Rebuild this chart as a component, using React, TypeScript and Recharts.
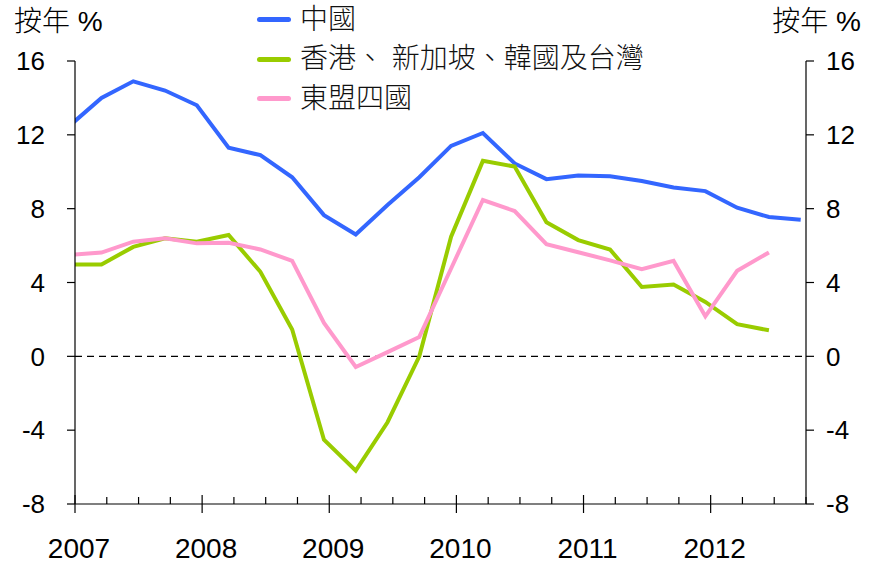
import { Line, LineChart, ReferenceLine, XAxis, YAxis } from "recharts";

// quarterly y/y growth, 2006Q4 - 2012Q3
const quarters = [
  "2006Q4", "2007Q1", "2007Q2", "2007Q3", "2007Q4", "2008Q1", "2008Q2", "2008Q3",
  "2008Q4", "2009Q1", "2009Q2", "2009Q3", "2009Q4", "2010Q1", "2010Q2", "2010Q3",
  "2010Q4", "2011Q1", "2011Q2", "2011Q3", "2011Q4", "2012Q1", "2012Q2", "2012Q3",
];
const china = [
  12.5, 14.0, 14.9, 14.4, 13.6, 11.3, 10.9, 9.7, 7.65, 6.6, 8.2, 9.7,
  11.4, 12.1, 10.45, 9.6, 9.8, 9.75, 9.5, 9.15, 8.95, 8.05, 7.55, 7.4,
];
const nies = [
  4.98, 4.98, 5.93, 6.39, 6.21, 6.57, 4.58, 1.45, -4.52, -6.19, -3.57, 0.0,
  6.48, 10.59, 10.28, 7.26, 6.3, 5.79, 3.76, 3.89, 2.95, 1.74, 1.41,
];
const asean4 = [
  5.49, 5.62, 6.21, 6.39, 6.12, 6.15, 5.79, 5.17, 1.81, -0.58, 0.23, 1.05,
  4.76, 8.47, 7.87, 6.08, 5.64, 5.2, 4.72, 5.17, 2.17, 4.63, 5.63,
];
const yTicks = [-8, -4, 0, 4, 8, 12, 16];
const years = [2007, 2008, 2009, 2010, 2011, 2012];

const series = [
  { key: "china", name: "中國", color: "#3366ff" },
  { key: "nies", name: "香港、 新加坡、韓國及台灣", color: "#99cc00" },
  { key: "asean4", name: "東盟四國", color: "#ff99cc" },
];

// plot each quarter at the middle of its last month
function quarterTime(q: string) {
  const y = Number(q.slice(0, 4));
  const n = Number(q.slice(5));
  return y + (n * 3 - 0.5) / 12;
}

const data = quarters.map((q, i) => ({
  t: quarterTime(q),
  china: china[i] ?? null,
  nies: nies[i] ?? null,
  asean4: asean4[i] ?? null,
}));

const xTicks: number[] = [];
for (const y of years) for (let k = 0; k < 4; k++) xTicks.push(y + k / 4);

const NUM_FONT = "'Liberation Sans', Arial, sans-serif";
const CJK_FONT = "'Liberation Sans', 'Noto Sans CJK TC', sans-serif";

function XTick({ x, y, payload }: any) {
  const v = payload.value as number;
  const major = Math.abs(v - Math.round(v)) < 1e-6;
  return (
    <g>
      <line x1={x} x2={x} y1={major ? y - 9 : y - 7} y2={major ? y + 9 : y} stroke="#000" strokeWidth={1.2} />
      {major && (
        <text x={x + 4} y={y + 54} textAnchor="middle" fontSize={28} fill="#000" fontFamily={NUM_FONT}>
          {Math.round(v)}
        </text>
      )}
    </g>
  );
}

function LegendBox() {
  return (
    <div
      style={{
        position: "absolute",
        left: 257,
        top: 0,
        fontFamily: CJK_FONT,
        fontSize: 28,
        color: "#111",
        fontWeight: 300,
      }}
    >
      {series.map((s) => (
        <div key={s.key} style={{ display: "flex", alignItems: "center", height: 39.5 }}>
          <div style={{ width: 34, height: 5, borderRadius: 2.5, background: s.color, marginRight: 9 }} />
          <span style={{ lineHeight: "30px", whiteSpace: "pre" }}>{s.name}</span>
        </div>
      ))}
    </div>
  );
}

const titleStyle = {
  position: "absolute" as const,
  top: 7,
  fontFamily: CJK_FONT,
  fontSize: 28,
  lineHeight: "30px",
  fontWeight: 300,
};

export default function App() {
  return (
    <div style={{ position: "absolute", left: 0, top: 0, width: 874, height: 568, background: "#fff" }}>
      <LineChart
        width={874}
        height={568}
        data={data}
        margin={{ top: 61, right: 15, bottom: 15, left: 15 }}
      >
        <XAxis
          dataKey="t"
          type="number"
          domain={[2007, 2012.75]}
          allowDataOverflow
          ticks={xTicks}
          interval={0}
          tick={<XTick />}
          tickLine={false}
          tickSize={0}
          tickMargin={0}
          height={49}
          axisLine={{ stroke: "#000", strokeWidth: 1.2 }}
        />
        <YAxis
          yAxisId="left"
          domain={[-8, 16]}
          ticks={yTicks}
          interval={0}
          width={60}
          tickSize={8}
          tickMargin={22}
          tick={{ fontSize: 26, fill: "#000", fontFamily: NUM_FONT }}
          tickLine={{ stroke: "#000", strokeWidth: 1.2 }}
          axisLine={{ stroke: "#000", strokeWidth: 1.2 }}
        />
        <YAxis
          yAxisId="right"
          orientation="right"
          domain={[-8, 16]}
          ticks={yTicks}
          interval={0}
          width={53}
          tickSize={8}
          tickMargin={12}
          tick={{ fontSize: 26, fill: "#000", fontFamily: NUM_FONT }}
          tickLine={{ stroke: "#000", strokeWidth: 1.2 }}
          axisLine={{ stroke: "#000", strokeWidth: 1.2 }}
        />
        <ReferenceLine yAxisId="left" y={0} stroke="#000" strokeWidth={1.3} strokeDasharray="7 5" />
        {series.map((s) => (
          <Line
            key={s.key}
            yAxisId="left"
            type="linear"
            dataKey={s.key}
            name={s.name}
            stroke={s.color}
            strokeWidth={4}
            dot={false}
            activeDot={false}
            isAnimationActive={false}
          />
        ))}
        {/* the right axis mirrors the left one; an unstroked copy keeps it drawn */}
        <Line
          yAxisId="right"
          type="linear"
          dataKey="china"
          stroke="none"
          dot={false}
          activeDot={false}
          legendType="none"
          isAnimationActive={false}
        />
      </LineChart>
      <div style={{ ...titleStyle, left: 14 }}>按年 %</div>
      <div style={{ ...titleStyle, right: 13 }}>按年 %</div>
      <LegendBox />
    </div>
  );
}
